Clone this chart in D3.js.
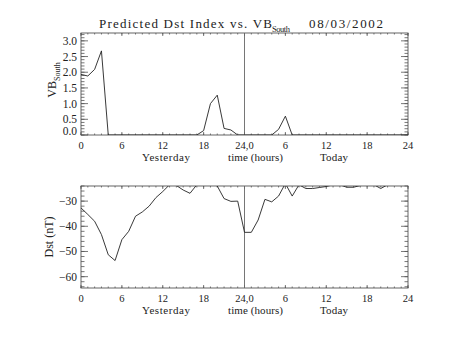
<!DOCTYPE html>
<html><head><meta charset="utf-8">
<script src="https://cdn.jsdelivr.net/npm/d3@7"></script>
<style>
html,body{margin:0;padding:0;background:#fff;}
svg text{font-family:"Liberation Serif","DejaVu Serif",serif;fill:#222;}
</style></head>
<body>
<svg id="chart" width="453" height="340"></svg>
<script>
// ---- data ----
const hours = d3.range(0, 49); // 0..24 yesterday, 24..48 today
const vbSouth = [1.93,1.88,2.09,2.68,0,0,0,0,0,0,0,0,0,0,0,0,0,0,0.14,1.0,1.27,0.21,0.16,0,
                 0,0,0,0,0,0.18,0.6,0,0,0,0,0,0,0,0,0,0,0,0,0,0,0,0,0,0];
const dst = [-32.7,-35.3,-38,-43.3,-51.3,-53.6,-45.3,-42,-36,-34.3,-32,-28.6,-26.2,-23.5,-23.8,-25.6,-26.9,-23.5,-22.5,-22.8,-24,-29,-30.1,-30,
             -42.4,-42.4,-37.5,-29.3,-30.3,-28,-23,-28,-23.5,-25,-25,-24.6,-24.2,-23.5,-23.5,-24.5,-24.5,-23.8,-23.5,-23.5,-25,-23.5,-23.8,-23.5,-23.5];
const xTickValues = [0,6,12,18,24,30,36,42,48];
const xTickLabels = ["0","6","12","18","24,0","6","12","18","24"];
const vbTicks = [0,0.5,1,1.5,2,2.5,3];
const vbTickLabels = ["0.0","0.5","1.0","1.5","2.0","2.5","3.0"];
const dstTicks = [-60,-50,-40,-30];
const dstTickLabels = ["\u221260","\u221250","\u221240","\u221230"];

const svg = d3.select("#chart");
const L = 81, R = 408;
const x = d3.scaleLinear().domain([0,48]).range([L,R]);

function panel(cfg){
  const g = svg.append("g");
  const y = d3.scaleLinear().domain(cfg.domain).range([cfg.bottom, cfg.top]);
  const id = "clip"+cfg.name;
  svg.append("clipPath").attr("id",id).append("rect")
     .attr("x",L).attr("y",cfg.top).attr("width",R-L).attr("height",cfg.bottom-cfg.top);
  const xMinor = d3.range(0,49);
  const tk = (vals,len,side)=>{
    vals.forEach(v=>{
      const px = x(v);
      if(side==="b") g.append("line").attr("x1",px).attr("x2",px).attr("y1",cfg.bottom).attr("y2",cfg.bottom-len);
      else g.append("line").attr("x1",px).attr("x2",px).attr("y1",cfg.top).attr("y2",cfg.top+len);
    });
  };
  tk(xMinor,1.5,"b"); tk(xMinor,1.5,"t"); tk(xTickValues,3,"b"); tk(xTickValues,3,"t");
  const yMinor = d3.range(cfg.minorStart, cfg.domain[1]+1e-9, cfg.minorStep);
  const ytk = (vals,len)=>{
    vals.forEach(v=>{
      const py = y(v);
      if(py < cfg.top-0.1 || py > cfg.bottom+0.1) return;
      g.append("line").attr("x1",L).attr("x2",L+len).attr("y1",py).attr("y2",py);
      g.append("line").attr("x1",R).attr("x2",R-len).attr("y1",py).attr("y2",py);
    });
  };
  ytk(yMinor,3.5); ytk(cfg.ticks,7);
  g.selectAll("line").attr("stroke","#555").attr("stroke-width",0.8);
  g.append("rect").attr("x",L).attr("y",cfg.top).attr("width",R-L).attr("height",cfg.bottom-cfg.top)
    .attr("fill","none").attr("stroke","#555").attr("stroke-width",0.9);
  g.append("line").attr("x1",x(24)).attr("x2",x(24)).attr("y1",cfg.top).attr("y2",cfg.bottom)
    .attr("stroke","#666").attr("stroke-width",0.9);
  g.append("path").datum(cfg.values)
    .attr("clip-path","url(#"+id+")")
    .attr("fill","none").attr("stroke","#222").attr("stroke-width",0.9)
    .attr("d", d3.line().x((d,i)=>x(hours[i])).y(d=>y(d)));
  cfg.ticks.forEach((v,i)=>{
    let py = y(v)+4;
    if(cfg.name==="vb" && v===0) py -= 4;
    g.append("text").attr("x",77).attr("y",py).attr("text-anchor","end")
      .attr("font-size",11.5).text(cfg.tickLabels[i]);
  });
  xTickValues.forEach((v,i)=>{
    g.append("text").attr("x",x(v)).attr("y",cfg.bottom+14).attr("text-anchor","middle")
      .attr("font-size",10.5).text(xTickLabels[i]);
  });
  const ty = cfg.bottom+26;
  g.append("text").attr("x",142).attr("y",ty).attr("font-size",11).attr("textLength",48).text("Yesterday");
  g.append("text").attr("x",228).attr("y",ty).attr("font-size",11).attr("textLength",55).text("time (hours)");
  g.append("text").attr("x",320).attr("y",ty).attr("font-size",11).attr("textLength",28).text("Today");
  return {g,y};
}

panel({name:"vb", top:33, bottom:135, domain:[0,3.25], ticks:vbTicks, tickLabels:vbTickLabels,
       minorStart:0, minorStep:0.1, values:vbSouth});
panel({name:"dst", top:186, bottom:288, domain:[-64.5,-24], ticks:dstTicks, tickLabels:dstTickLabels,
       minorStart:-64, minorStep:2, values:dst});

const cy1 = (33+135)/2;
const t1 = svg.append("text").attr("transform",`translate(56,${cy1-4}) rotate(-90)`)
  .attr("text-anchor","middle").attr("font-size",12);
t1.append("tspan").text("VB");
t1.append("tspan").attr("font-size",8).attr("dy",4).text("South");

svg.append("text").attr("transform",`translate(53,${(186+288)/2}) rotate(-90)`)
  .attr("text-anchor","middle").attr("font-size",12).text("Dst (nT)");

svg.append("text").attr("x",99).attr("y",28).attr("font-size",13).attr("textLength",173).attr("lengthAdjust","spacing")
  .text("Predicted Dst Index vs. VB");
svg.append("text").attr("x",272).attr("y",32).attr("font-size",8.5).attr("textLength",18).text("South");
svg.append("text").attr("x",309).attr("y",28).attr("font-size",13).attr("textLength",74).attr("lengthAdjust","spacing")
  .text("08/03/2002");
</script>
</body></html>
